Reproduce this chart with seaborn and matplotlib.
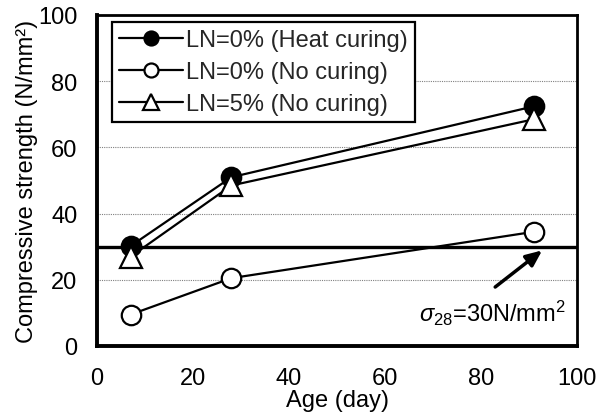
import matplotlib
matplotlib.use("Agg")
import matplotlib.pyplot as plt
import seaborn as sns

age = [7, 28, 91]
heat_0 = [30.2, 51.0, 72.4]
none_0 = [9.5, 20.5, 34.5]
none_5 = [27.0, 48.5, 68.5]
labels = ["LN=0% (Heat curing)", "LN=0% (No curing)", "LN=5% (No curing)"]
xticks = [0, 20, 40, 60, 80, 100]
yticks = [0, 20, 40, 60, 80, 100]
target = 30

sns.set_theme(style="white")
plt.rcParams["font.family"] = ["Liberation Sans", "DejaVu Sans"]
plt.rcParams["mathtext.fontset"] = "custom"
plt.rcParams["mathtext.it"] = "Liberation Sans:italic"
plt.rcParams["mathtext.rm"] = "Liberation Sans"

FS = 17
fig = plt.figure(figsize=(6.05, 4.14), dpi=100)
ax = fig.add_axes([97/605, 1-347/414, 480/605, 331/414])

ax.axhline(target, color="black", lw=2.4, zorder=2)

styles = [("o", "black", 14), ("o", "white", 14), ("^", "white", 16)]
for vals, (mk, fc, ms), lab in zip([heat_0, none_0, none_5], styles, labels):
    sns.lineplot(x=age, y=vals, ax=ax, color="black", lw=1.6, marker=mk,
                 markersize=ms, markerfacecolor=fc,
                 markeredgecolor="black", markeredgewidth=1.6, label=lab, zorder=3)

ax.set_xlim(0, 100)
ax.set_ylim(0, 100)
ax.set_xticks(xticks)
ax.set_yticks(yticks)
ax.tick_params(axis="both", direction="in", length=5, width=2.2, labelsize=FS, colors="black")
ax.tick_params(axis="x", pad=15)
ax.tick_params(axis="y", pad=14)
for y in [20, 40, 60, 80]:
    ax.axhline(y, color="gray", lw=0.8, ls=(0, (1, 1)), zorder=1)
for s in ["left", "bottom"]:
    ax.spines[s].set_linewidth(2.8)
    ax.spines[s].set_color("black")
for s in ["top", "right"]:
    ax.spines[s].set_linewidth(2.0)
    ax.spines[s].set_color("black")

ax.set_xlabel("Age (day)", fontsize=FS, labelpad=0, color="black")
ax.set_ylabel("Compressive strength (N/mm²)", fontsize=FS, labelpad=0, color="black")

ax.annotate("", xy=(93.2, 29.4), xytext=(82.5, 17.3),
            arrowprops=dict(arrowstyle="-|>,head_length=0.8,head_width=0.35", color="black", lw=2.5))
ax.text(97.8, 10.0, r"$\sigma_{28}$=30N/mm$^2$", fontsize=FS, ha="right", va="center", color="black")

leg = ax.legend(loc="upper left", bbox_to_anchor=(0.031, 0.978), fontsize=FS, frameon=True,
                fancybox=False, edgecolor="black", handlelength=2.7, handletextpad=0.15,
                borderpad=0.3, labelspacing=0.42, borderaxespad=0.0, markerscale=0.72)
leg.get_frame().set_linewidth(1.6)
leg.get_frame().set_alpha(1)

fig.savefig("out.png", dpi=100)
